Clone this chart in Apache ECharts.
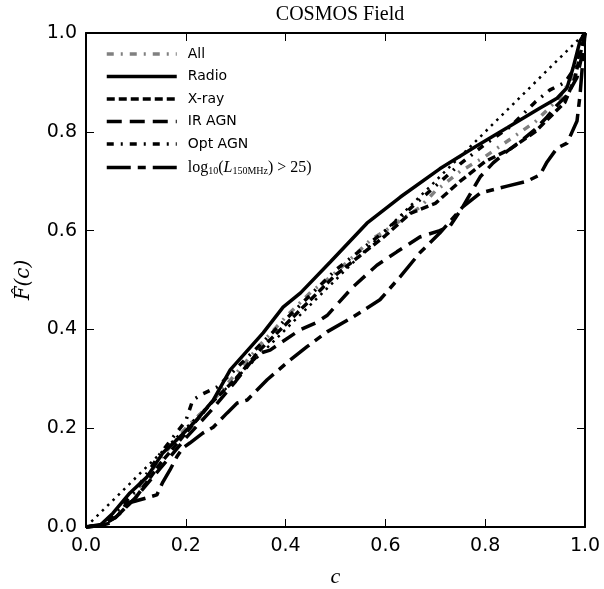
<!DOCTYPE html>
<html lang="en">
  <head>
    <meta charset="UTF-8" />
    <title>COSMOS Field</title>
    <script src="https://cdn.jsdelivr.net/npm/echarts@6/dist/echarts.min.js"></script>
    <style>
      html, body { margin: 0; padding: 0; background: #fff; }
      #box { width: 604px; height: 589px; }
    </style>
  </head>
  <body>
    <div id="box"></div>
    <script>
      // x = c, y = F(c)
      var allC = [0, 0.03, 0.06, 0.1, 0.15, 0.2, 0.25, 0.3, 0.35, 0.4, 0.45, 0.49, 0.535, 0.57, 0.6, 0.67, 0.7, 0.75, 0.8, 0.85, 0.9, 0.95, 0.98, 1];
      var allF = [0, 0.004, 0.025, 0.07, 0.14, 0.2, 0.25, 0.31, 0.37, 0.425, 0.475, 0.506, 0.547, 0.581, 0.6, 0.648, 0.68, 0.72, 0.75, 0.785, 0.82, 0.87, 0.92, 1];

      var radioC = [0, 0.03, 0.054, 0.088, 0.122, 0.154, 0.188, 0.222, 0.255, 0.289, 0.355, 0.395, 0.43, 0.49, 0.563, 0.63, 0.709, 0.776, 0.844, 0.91, 0.944, 0.964, 0.976, 0.99, 1];
      var radioF = [0, 0.005, 0.028, 0.069, 0.101, 0.15, 0.182, 0.217, 0.257, 0.318, 0.393, 0.445, 0.474, 0.537, 0.615, 0.668, 0.725, 0.767, 0.808, 0.848, 0.868, 0.889, 0.929, 0.984, 1];

      var xrayC = [0, 0.03, 0.06, 0.1, 0.15, 0.2, 0.25, 0.3, 0.35, 0.4, 0.45, 0.5, 0.55, 0.6, 0.65, 0.7, 0.75, 0.8, 0.85, 0.9, 0.93, 0.96, 0.98, 1];
      var xrayF = [0, 0.003, 0.02, 0.06, 0.13, 0.19, 0.25, 0.3, 0.36, 0.41, 0.46, 0.51, 0.55, 0.59, 0.635, 0.655, 0.7, 0.74, 0.765, 0.8, 0.83, 0.86, 0.91, 1];

      var irC = [0, 0.03, 0.06, 0.1, 0.15, 0.2, 0.25, 0.3, 0.329, 0.349, 0.369, 0.389, 0.429, 0.46, 0.483, 0.535, 0.583, 0.623, 0.669, 0.709, 0.73, 0.755, 0.79, 0.816, 0.844, 0.87, 0.9, 0.924, 0.944, 0.964, 0.984, 0.993, 1];
      var irF = [0, 0.003, 0.02, 0.06, 0.12, 0.18, 0.235, 0.295, 0.332, 0.352, 0.358, 0.372, 0.399, 0.413, 0.428, 0.486, 0.53, 0.557, 0.587, 0.6, 0.61, 0.648, 0.709, 0.737, 0.761, 0.78, 0.805, 0.83, 0.854, 0.874, 0.91, 0.95, 1];

      var optC = [0, 0.03, 0.06, 0.1, 0.15, 0.2, 0.214, 0.235, 0.262, 0.28, 0.3, 0.35, 0.4, 0.45, 0.5, 0.55, 0.6, 0.65, 0.7, 0.75, 0.8, 0.85, 0.9, 0.93, 0.96, 0.98, 1];
      var optF = [0, 0.005, 0.03, 0.075, 0.15, 0.215, 0.257, 0.27, 0.283, 0.3, 0.32, 0.37, 0.42, 0.47, 0.52, 0.56, 0.6, 0.645, 0.69, 0.735, 0.775, 0.81, 0.86, 0.885, 0.9, 0.93, 1];

      var lumC = [0, 0.03, 0.048, 0.068, 0.082, 0.094, 0.122, 0.142, 0.154, 0.168, 0.182, 0.194, 0.208, 0.234, 0.255, 0.283, 0.303, 0.323, 0.363, 0.409, 0.443, 0.483, 0.535, 0.589, 0.629, 0.669, 0.709, 0.755, 0.79, 0.844, 0.884, 0.91, 0.924, 0.944, 0.964, 0.984, 0.99, 1];
      var lumF = [0, 0.003, 0.008, 0.028, 0.049, 0.051, 0.059, 0.065, 0.091, 0.115, 0.142, 0.16, 0.17, 0.19, 0.202, 0.231, 0.251, 0.257, 0.298, 0.338, 0.365, 0.395, 0.425, 0.46, 0.506, 0.555, 0.595, 0.648, 0.676, 0.69, 0.7, 0.713, 0.739, 0.767, 0.777, 0.822, 0.874, 1];

      // the y = c reference line
      var diagC = [0, 1];
      var diagF = [0, 1];

      var tickLabels = ["0.0", "0.2", "0.4", "0.6", "0.8", "1.0"];

      function pairs(xs, ys) {
        var out = [];
        for (var i = 0; i < xs.length; i++) {
          out.push([xs[i], ys[i]]);
        }
        return out;
      }

      function lineSeries(name, xs, ys, color, width, dash) {
        return {
          name: name,
          type: "line",
          data: pairs(xs, ys),
          symbol: "none",
          showSymbol: false,
          smooth: false,
          clip: true,
          lineStyle: { color: color, width: width, type: dash, cap: "butt" },
          itemStyle: { color: color },
        };
      }

      var box = document.getElementById("box");
      var chart = echarts.init(box);

      var tickFmt = function (v) {
        return tickLabels[Math.round(v / 0.2)];
      };

      var axisCommon = {
        type: "value",
        min: 0,
        max: 1,
        interval: 0.2,
        splitLine: { show: false },
        axisLine: { show: true, onZero: false, lineStyle: { color: "#000", width: 2 } },
        axisTick: { show: true, inside: true, length: 8, lineStyle: { color: "#000", width: 1 } },
      };

      chart.setOption({
        animation: false,
        backgroundColor: "#fff",
        title: {
          text: "COSMOS Field",
          left: 335,
          top: 0,
          textAlign: "center",
          textStyle: {
            fontFamily: "Liberation Serif",
            fontSize: 20,
            fontWeight: "normal",
            color: "#000",
          },
        },
        grid: { left: 86, right: 19, top: 33, bottom: 62, containLabel: false, outerBoundsMode: "none" },
        legend: {
          orient: "vertical",
          left: 100,
          top: 42,
          itemWidth: 70,
          itemHeight: 14,
          itemGap: 8.5,
          itemStyle: { opacity: 0, borderWidth: 0 },
          lineStyle: { width: 3.5 },
          data: ["All", "Radio", "X-ray", "IR AGN", "Opt AGN", "log10"],
          formatter: function (name) {
            if (name === "log10") {
              return "{n|log}{s|10}{n|(}{i|L}{s|150MHz}{n|) > 25)}";
            }
            return name;
          },
          textStyle: {
            fontFamily: "DejaVu Sans",
            fontSize: 14,
            color: "#000",
            padding: [0, 0, 0, 6],
            rich: {
              n: { fontFamily: "Liberation Serif", fontSize: 16, color: "#000" },
              i: { fontFamily: "Liberation Serif", fontStyle: "italic", fontSize: 16, color: "#000" },
              s: { fontFamily: "Liberation Serif", fontSize: 10, color: "#000", padding: [8, 0, 0, 0] },
            },
          },
        },
        xAxis: [
          Object.assign({}, axisCommon, {
            position: "bottom",
            name: "c",
            nameLocation: "middle",
            nameGap: 39,
            nameTextStyle: { fontFamily: "Liberation Serif", fontStyle: "italic", fontSize: 22, color: "#000" },
            axisLabel: { show: true, formatter: tickFmt, margin: 10, fontFamily: "DejaVu Sans", fontSize: 19, color: "#000" },
          }),
          Object.assign({}, axisCommon, {
            position: "top",
            axisLabel: { show: false },
          }),
        ],
        yAxis: [
          Object.assign({}, axisCommon, {
            position: "left",
            name: "F\u0302(c)",
            nameLocation: "middle",
            nameGap: 52,
            nameRotate: 90,
            nameTextStyle: { fontFamily: "DejaVu Serif", fontStyle: "italic", fontSize: 20, color: "#000" },
            axisLabel: { show: true, formatter: tickFmt, margin: 9, fontFamily: "DejaVu Sans", fontSize: 19, color: "#000" },
          }),
          Object.assign({}, axisCommon, {
            position: "right",
            axisLabel: { show: false },
          }),
        ],
        series: [
          lineSeries("diag", diagC, diagF, "#000", 2.5, [2.5, 5]),
          lineSeries("All", allC, allF, "#808080", 3.5, [7, 7, 2, 7]),
          lineSeries("Radio", radioC, radioF, "#000", 3.5, "solid"),
          lineSeries("X-ray", xrayC, xrayF, "#000", 3.5, [8, 4]),
          lineSeries("IR AGN", irC, irF, "#000", 3.5, [15, 8]),
          lineSeries("Opt AGN", optC, optF, "#000", 3.5, [7, 7, 2, 7]),
          lineSeries("log10", lumC, lumF, "#000", 3.5, [24, 7, 8, 7]),
        ],
      });
    </script>
  </body>
</html>
